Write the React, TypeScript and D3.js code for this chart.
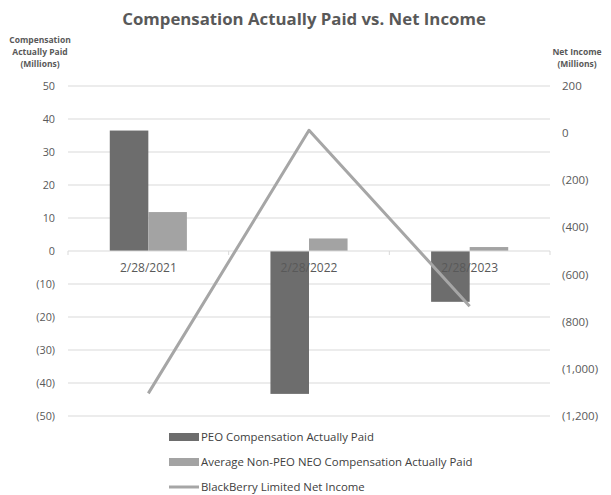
import React from "react";
import * as d3 from "d3";

const categories = ["2/28/2021", "2/28/2022", "2/28/2023"];
const peoCap = [36.5, -43.3, -15.4];
const neoCap = [11.8, 3.8, 1.2];
const netIncome = [-1104, 12, -734];
const leftTicks = [50, 40, 30, 20, 10, 0, -10, -20, -30, -40, -50];
const rightTicks = [200, 0, -200, -400, -600, -800, -1000, -1200];
const seriesNames = [
  "PEO Compensation Actually Paid",
  "Average Non-PEO NEO Compensation Actually Paid",
  "BlackBerry Limited Net Income",
];

const W = 611;
const H = 495;
const plotL = 68;
const plotR = 550;
const plotT = 86;
const plotB = 416;
const FONT = "'Open Sans', 'Liberation Sans', sans-serif";
const TXT = "#595959";
const C_PEO = "#6d6d6d";
const C_NEO = "#a3a3a3";
const C_LINE = "#a6a6a6";

const fmt = (v: number) => {
  const s = d3.format(",")(Math.abs(v));
  return v < 0 ? `(${s})` : s;
};

export default function App() {
  const x = d3
    .scaleBand<string>()
    .domain(categories)
    .range([plotL, plotR])
    .paddingInner(0.52)
    .paddingOuter(0.26);
  const yL = d3.scaleLinear().domain([-50, 50]).range([plotB, plotT]);
  const yR = d3.scaleLinear().domain([-1200, 200]).range([plotB, plotT]);
  const bw = x.bandwidth() / 2;
  const step = x.step();
  const line = d3
    .line<number>()
    .x((_, i) => (x(categories[i]) as number) + x.bandwidth() / 2)
    .y((d) => yR(d));

  const legendY = [437, 462, 487];

  return (
    <svg width={W} height={H} style={{ position: "absolute", left: 0, top: 0, background: "#fff" }} fontFamily={FONT}>
      <text x={304} y={25} textAnchor="middle" fontSize={16.8} fontWeight="bold" fill={TXT}>
        Compensation Actually Paid vs. Net Income
      </text>
      <g fontSize={8.5} fontWeight="bold" fill={TXT} textAnchor="middle">
        <text x={40} y={43}>Compensation</text>
        <text x={40} y={55}>Actually Paid</text>
        <text x={40} y={67}>(Millions)</text>
        <text x={577} y={55}>Net Income</text>
        <text x={577} y={67}>(Millions)</text>
      </g>
      {leftTicks.map((t) => (
        <g key={"l" + t}>
          {t !== 0 && (
            <line x1={plotL} x2={plotR} y1={yL(t)} y2={yL(t)} stroke="#d9d9d9" strokeWidth={1} />
          )}
          <text x={55} y={yL(t) + 4} textAnchor="end" fontSize={10.8} fill={TXT}>
            {fmt(t)}
          </text>
        </g>
      ))}
      {rightTicks.map((t) => (
        <text key={"r" + t} x={562} y={yR(t) + 4} textAnchor="start" fontSize={11.5} fill={TXT}>
          {fmt(t)}
        </text>
      ))}
      {categories.map((c, i) => {
        const x0 = x(c) as number;
        return (
          <g key={c}>
            <rect x={x0} y={Math.min(yL(peoCap[i]), yL(0))} width={bw} height={Math.abs(yL(peoCap[i]) - yL(0))} fill={C_PEO} />
            <rect x={x0 + bw} y={Math.min(yL(neoCap[i]), yL(0))} width={bw} height={Math.abs(yL(neoCap[i]) - yL(0))} fill={C_NEO} />
          </g>
        );
      })}
      <line x1={plotL} x2={plotR} y1={yL(0)} y2={yL(0)} stroke="#d9d9d9" strokeWidth={1} />
      {[0, 1, 2, 3].map((k) => (
        <line key={"tk" + k} x1={plotL + k * step} x2={plotL + k * step} y1={yL(0)} y2={yL(0) + 4} stroke="#d9d9d9" />
      ))}
      {categories.map((c) => (
        <text key={"cl" + c} x={(x(c) as number) + x.bandwidth() / 2} y={yL(0) + 21} textAnchor="middle" fontSize={12} fill={TXT}>
          {c}
        </text>
      ))}
      <path d={line(netIncome) || ""} fill="none" stroke={C_LINE} strokeWidth={3} strokeLinejoin="round" />
      <g fontSize={11.4} fill="#404040">
        <rect x={169} y={legendY[0] - 4} width={30} height={8} fill={C_PEO} />
        <text x={201} y={legendY[0] + 4}>{seriesNames[0]}</text>
        <rect x={169} y={legendY[1] - 4} width={30} height={8} fill={C_NEO} />
        <text x={201} y={legendY[1] + 4}>{seriesNames[1]}</text>
        <line x1={169} x2={199} y1={legendY[2]} y2={legendY[2]} stroke={C_LINE} strokeWidth={3} />
        <text x={201} y={legendY[2] + 4}>{seriesNames[2]}</text>
      </g>
    </svg>
  );
}
